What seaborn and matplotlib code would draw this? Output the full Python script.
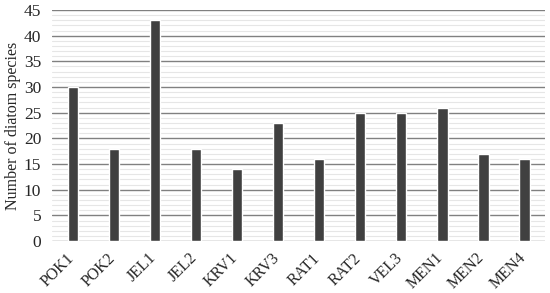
import numpy as np
import pandas as pd
import matplotlib
matplotlib.use("Agg")
import matplotlib.pyplot as plt
import matplotlib.transforms as mtransforms
import seaborn as sns
from matplotlib.ticker import MultipleLocator

sites = ["POK1", "POK2", "JEL1", "JEL2", "KRV1", "KRV3",
         "RAT1", "RAT2", "VEL3", "MEN1", "MEN2", "MEN4"]
species = [30, 18, 43, 18, 14, 23, 16, 25, 25, 26, 17, 16]

df = pd.DataFrame({"site": sites, "species": species})

sns.set_style("white")
plt.rcParams["font.family"] = ["Liberation Serif", "DejaVu Serif"]

fig = plt.figure(figsize=(5.5, 2.93), dpi=100)
ax = fig.add_axes([0.095, 0.177, 0.896, 0.789])

sns.barplot(data=df, x="site", y="species", color="#404040",
            saturation=1, width=0.25, ax=ax, zorder=3)

ax.set_ylim(0, 45)
ax.set_xlim(-0.5, len(sites) - 0.5)
ax.yaxis.set_major_locator(MultipleLocator(5))
ax.yaxis.set_minor_locator(MultipleLocator(1))
ax.grid(axis="y", which="minor", color="#e6e6e6", linewidth=0.8, zorder=0)
ax.grid(axis="y", which="major", color="#808080", linewidth=1.0, zorder=1)
ax.set_axisbelow(True)
for s in ax.spines.values():
    s.set_visible(False)

ax.tick_params(axis="y", which="both", length=0, labelsize=12.5, pad=8)
ax.tick_params(axis="x", which="both", length=0, labelsize=11.5, pad=5)
# shift rotated labels a bit left like the original
offset = mtransforms.ScaledTranslation(-7 / 100, -2 / 100, fig.dpi_scale_trans)
for lab in ax.get_xticklabels():
    lab.set_rotation(45)
    lab.set_ha("right")
    lab.set_rotation_mode("anchor")
    lab.set_transform(lab.get_transform() + offset)
ax.set_xlabel("")
ax.set_ylabel("Number of diatom species", fontsize=11.5, labelpad=2)

fig.savefig("out.png", dpi=100)
